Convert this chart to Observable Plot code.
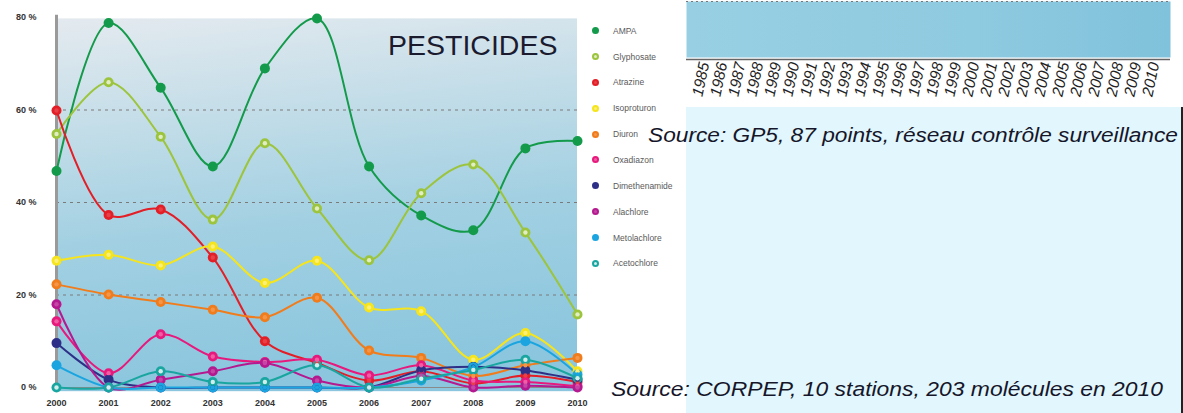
<!DOCTYPE html>
<html><head><meta charset="utf-8">
<script src="https://cdn.jsdelivr.net/npm/d3@7"></script>
<script src="https://cdn.jsdelivr.net/npm/@observablehq/plot@0.6"></script>
<style>
html,body{margin:0;padding:0;background:#fff;}
#wrap{position:relative;width:1183px;height:413px;overflow:hidden;font-family:"Liberation Sans",Arial,sans-serif;background:#fff;}
.abs{position:absolute;}
#panel{left:686px;top:107px;width:495px;height:306px;background:#e2f6fd;border-right:2px solid #222;}
.src{font-style:italic;font-size:20px;line-height:1;color:#16162a;white-space:nowrap;transform-origin:0 0;}
#title{left:388px;top:31px;font-size:28.5px;line-height:1;color:#1b1b30;white-space:nowrap;}
.leg{position:absolute;left:592px;height:10px;display:flex;align-items:center;font-size:8.5px;color:#5a5a5a;white-space:nowrap;}
.leg span.d{display:inline-block;width:7px;height:7px;border-radius:50%;margin-right:14px;box-sizing:border-box;}
</style></head><body><div id="wrap"></div>
<script>
// ---- data ----
const years = [2000, 2001, 2002, 2003, 2004, 2005, 2006, 2007, 2008, 2009, 2010];
const series = ["AMPA", "Glyphosate", "Atrazine", "Isoproturon", "Diuron", "Oxadiazon", "Dimethenamide", "Alachlore", "Metolachlore", "Acetochlore"];
const AMPA          = [46.8, 78.8, 64.8, 47.8, 69.0, 79.8, 47.8, 37.2, 34.0, 51.7, 53.3];
const Glyphosate    = [54.8, 66.0, 54.2, 36.3, 52.8, 38.7, 27.5, 42.0, 48.2, 33.5, 15.8];
const Atrazine      = [59.9, 37.3, 38.5, 28.1, 10.0, 5.3, 1.5, 3.5, 0.9, 2.6, 1.2];
const Isoproturon   = [27.4, 28.7, 26.4, 30.5, 22.6, 27.4, 17.3, 16.5, 6.0, 11.8, 3.5];
const Diuron        = [22.3, 20.1, 18.5, 16.8, 15.2, 19.4, 8.0, 6.4, 2.5, 4.8, 6.4];
const Oxadiazon     = [14.3, 3.1, 11.5, 6.7, 5.5, 6.0, 2.6, 4.8, 1.5, 1.2, 0.3];
const Dimethenamide = [9.6, 1.7, 0, 0, 0, 0, 0, 3.7, 4.5, 3.7, 1.7];
const Alachlore     = [18.0, 0, 1.7, 3.5, 5.3, 1.5, 0, 2.5, 0, 0.4, 0];
const Metolachlore  = [4.8, 0, 0, 0, 0, 0, 0, 1.5, 4.4, 10.0, 2.8];
const Acetochlore   = [0, 0, 3.5, 1.2, 1.2, 4.8, 0, 1.9, 3.8, 6.0, 2.0];
const yTicks = [0, 20, 40, 60, 80];
const gridLines = [20, 40, 60];
const gp5Years = [1985, 1986, 1987, 1988, 1989, 1990, 1991, 1992, 1993, 1994, 1995, 1996, 1997, 1998, 1999, 2000, 2001, 2002, 2003, 2004, 2005, 2006, 2007, 2008, 2009, 2010];
const title = "PESTICIDES";
const source1 = "Source: GP5, 87 points, réseau contrôle surveillance";
const source2 = "Source: CORPEP, 10 stations, 203 molécules en 2010";

// ---- styles ----
const colors = ["#139a4a", "#9cc43c", "#e31e26", "#f6e41c", "#f07c1c", "#e8197d", "#2e3087", "#b5198f", "#1ba5e0", "#1aa6a0"];
const lighten = [0, 0.7, 0.15, 0.4, 0.2, 0.3, 0, 0.2, 0, 0.8];

const valuesBy = [AMPA, Glyphosate, Atrazine, Isoproturon, Diuron, Oxadiazon, Dimethenamide, Alachlore, Metolachlore, Acetochlore];
const colorOf = new Map(series.map((s, i) => [s, colors[i]]));
const innerOf = new Map(series.map((s, i) => [s, d3.interpolateRgb(colors[i], "#ffffff")(lighten[i])]));
const data = series.flatMap((s, i) => years.map((yr, j) => ({series: s, year: yr, value: valuesBy[i][j]})));

const wrap = document.getElementById("wrap");

// ---- main chart ----
const main = Plot.plot({
  width: 680, height: 413,
  marginLeft: 56, marginRight: 103, marginTop: 17, marginBottom: 26,
  x: {domain: [2000, 2010], ticks: years, tickFormat: d => String(d), tickSize: 0, tickPadding: 12, label: null},
  y: {domain: [0, 80], ticks: yTicks, tickFormat: d => d + " %", tickSize: 0, tickPadding: 20, label: null},
  color: {type: "identity"},
  style: {background: "transparent", fontFamily: "Liberation Sans, Arial, sans-serif", fontSize: "9px", fontWeight: "bold", color: "#333", overflow: "visible"},
  marks: [
    Plot.rect([0], {x1: 2000, x2: 2010, y1: -0.9, y2: 79.7, fill: "url(#pbg)"}),
    Plot.ruleY(gridLines, {x1: 2000, x2: 2010, stroke: "#7a7a7a", strokeDasharray: "3,4", strokeWidth: 1}),
    Plot.ruleY([0], {x1: 2000, x2: 2010, stroke: "#8a8a8a", strokeWidth: 1}),
    Plot.ruleX([2000], {y1: -0.7, y2: 80.5, stroke: "#9a9a9a", strokeWidth: 3}),
    Plot.line(data, {x: "year", y: "value", z: "series", stroke: d => colorOf.get(d.series), curve: "catmull-rom", strokeWidth: 2}),
    Plot.dot(data, {x: "year", y: "value", r: 5, fill: d => colorOf.get(d.series), stroke: "none"}),
    Plot.dot(data, {x: "year", y: "value", r: 2.2, fill: d => innerOf.get(d.series), stroke: "none"})
  ]
});
d3.select(main).insert("defs", ":first-child").html(
  `<linearGradient id="pbg" x1="0" y1="0" x2="0.15" y2="1">
     <stop offset="0" stop-color="#e4eaef"/>
     <stop offset="0.3" stop-color="#c3dde8"/>
     <stop offset="0.6" stop-color="#a2d0e2"/>
     <stop offset="1" stop-color="#8bc6de"/>
   </linearGradient>`);
d3.select(main).selectAll("g[aria-label='x-axis tick label'] text, g[aria-label='y-axis tick label'] text").attr("fill", "#333");
main.classList.add("abs");
main.style.left = "0px"; main.style.top = "0px";
wrap.appendChild(main);

// ---- right top partial chart ----
const right = Plot.plot({
  width: 497, height: 107,
  marginLeft: 0, marginRight: 13, marginTop: 1, marginBottom: 50,
  x: {type: "point", domain: gp5Years, range: [9, 476], padding: 0, tickRotate: -78, tickSize: 0, tickPadding: 5, tickFormat: d => String(d), label: null},
  y: {domain: [0, 1], axis: null},
  style: {background: "transparent", fontFamily: "Liberation Sans, Arial, sans-serif", fontSize: "15.5px", fontStyle: "italic", color: "#222", overflow: "visible"},
  marks: [
    Plot.frame({fill: "url(#rbg)", stroke: "none"}),
    Plot.ruleY([1], {stroke: "#777", strokeDasharray: "2,3", strokeWidth: 1}),
    Plot.ruleY([0], {stroke: "#666", strokeWidth: 1.5, dy: 2})
  ]
});
d3.select(right).insert("defs", ":first-child").html(
  `<linearGradient id="rbg" x1="0" y1="0" x2="1" y2="0">
     <stop offset="0" stop-color="#98cfe3"/>
     <stop offset="0.6" stop-color="#8ecae0"/>
     <stop offset="1" stop-color="#80c2db"/>
   </linearGradient>`);
d3.select(right).selectAll("g[aria-label='x-axis tick label'] text").attr("fill", "#222");
right.classList.add("abs");
right.style.left = "686px"; right.style.top = "0px";
wrap.appendChild(right);

// ---- light panel, texts, legend ----
const panel = document.createElement("div");
panel.id = "panel"; panel.className = "abs";
wrap.appendChild(panel);

const t = document.createElement("div");
t.id = "title"; t.className = "abs"; t.textContent = title;
wrap.appendChild(t);

const s1 = document.createElement("div");
s1.className = "abs src"; s1.style.left = "648px"; s1.style.top = "125px"; s1.style.transform = "scaleX(1.135)"; s1.textContent = source1;
wrap.appendChild(s1);
const s2 = document.createElement("div");
s2.className = "abs src"; s2.style.left = "611px"; s2.style.top = "379px"; s2.style.transform = "scaleX(1.145)"; s2.textContent = source2;
wrap.appendChild(s2);

series.forEach((s, i) => {
  const row = document.createElement("div");
  row.className = "leg";
  row.style.top = (25.7 + i * 25.85) + "px";
  const dot = document.createElement("span");
  dot.className = "d";
  dot.style.background = innerOf.get(s);
  dot.style.border = "2px solid " + colorOf.get(s);
  row.appendChild(dot);
  row.appendChild(document.createTextNode(s));
  wrap.appendChild(row);
});
</script></body></html>
